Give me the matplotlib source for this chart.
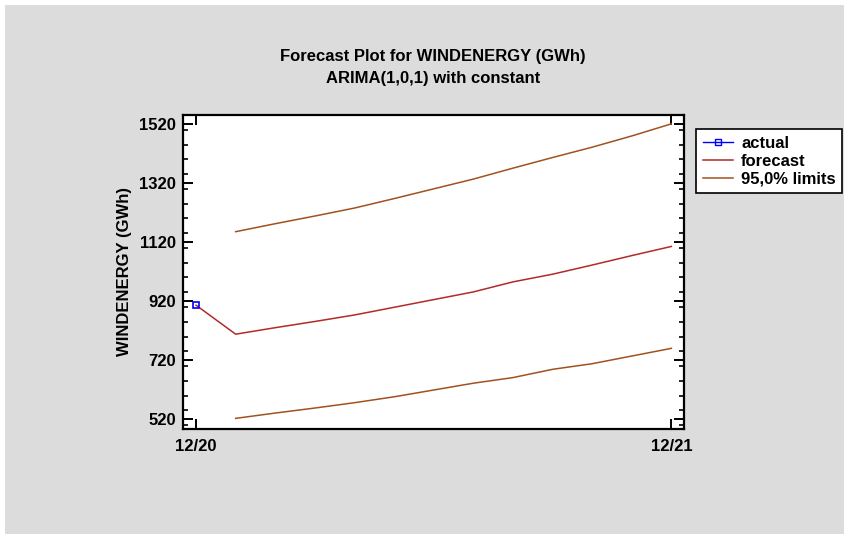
import matplotlib
matplotlib.use('Agg')
import matplotlib.pyplot as plt
import matplotlib.ticker as ticker
from matplotlib.patches import Rectangle
from matplotlib.lines import Line2D

plt.rcParams['font.family'] = ['Liberation Sans', 'DejaVu Sans']

# data (months after 12/20)
actual_x = [0]
actual_y = [906]
fc_x = [0, 1, 2, 3, 4, 5, 6, 7, 8, 9, 10, 11, 12]
forecast = [906, 808, 830, 851, 873, 899, 925, 951, 985, 1011, 1042, 1074, 1105]
lim_x = [1, 2, 3, 4, 5, 6, 7, 8, 9, 10, 11, 12]
upper = [1155, 1182, 1208, 1235, 1267, 1300, 1333, 1370, 1406, 1441, 1479, 1520]
lower = [523, 541, 558, 576, 596, 619, 642, 661, 689, 708, 734, 760]
xtick_pos = [0, 12]
xtick_labels = ['12/20', '12/21']

BG = '#DCDCDC'
FC_COLOR = '#B22A2A'
LIM_COLOR = '#A0521E'

fig = plt.figure(figsize=(8.45, 5.34), dpi=100, facecolor='white')
fig.patches.append(Rectangle((5 / 845, -0.1), 1.2, 1.1 - 5 / 534, transform=fig.transFigure,
                             facecolor=BG, edgecolor='none', zorder=-10))

ax = fig.add_axes([183 / 845, 105 / 534, 501 / 845, 314 / 534])
ax.set_facecolor('white')

ax.plot(fc_x, forecast, color=FC_COLOR, lw=1.1)
ax.plot(lim_x, upper, color=LIM_COLOR, lw=1.1)
ax.plot(lim_x, lower, color=LIM_COLOR, lw=1.1)
ax.plot(actual_x, actual_y, color='blue', lw=1, marker='s', ms=5,
        markerfacecolor='none', markeredgecolor='blue', markeredgewidth=1.2)

ax.set_xlim(-0.33, 12.32)
ax.set_ylim(487, 1550)
ax.set_xticks(xtick_pos)
ax.set_xticklabels(xtick_labels)
ax.yaxis.set_major_locator(ticker.FixedLocator([520, 720, 920, 1120, 1320, 1520]))
ax.yaxis.set_minor_locator(ticker.MultipleLocator(50))

for s in ax.spines.values():
    s.set_linewidth(1.6)
ax.tick_params(axis='both', which='major', direction='in', length=7, width=1.4,
               top=True, right=True, labelsize=12, pad=5)
ax.tick_params(axis='x', which='major', pad=7)
ax.tick_params(axis='y', which='minor', direction='in', length=3.5, width=1.2,
               left=True, right=True)
for lab in ax.get_xticklabels() + ax.get_yticklabels():
    lab.set_fontweight('bold')

ax.set_ylabel('WINDENERGY (GWh)', fontsize=12, fontweight='bold', labelpad=5)

fig.text(433 / 845, 1 - 57 / 534, 'Forecast Plot for WINDENERGY (GWh)', ha='center',
         va='center', fontsize=12, fontweight='bold')
fig.text(433 / 845, 1 - 79 / 534, 'ARIMA(1,0,1) with constant', ha='center',
         va='center', fontsize=12, fontweight='bold')

handles = [
    Line2D([], [], color='blue', lw=1, marker='s', ms=4, markerfacecolor='none',
           markeredgecolor='blue'),
    Line2D([], [], color=FC_COLOR, lw=1.1),
    Line2D([], [], color=LIM_COLOR, lw=1.1),
]
leg = fig.legend(handles, ['actual', 'forecast', '95,0% limits'],
                 loc='upper left', bbox_to_anchor=(696 / 845, 1 - 129 / 534),
                 frameon=True, fancybox=False, edgecolor='black', facecolor='white',
                 framealpha=1, prop={'weight': 'bold', 'size': 12},
                 handlelength=1.8, handletextpad=0.5, labelspacing=0.18,
                 borderpad=0.4, borderaxespad=0)
leg.get_frame().set_linewidth(1.2)

fig.savefig('out.png', dpi=100, facecolor=fig.get_facecolor())
